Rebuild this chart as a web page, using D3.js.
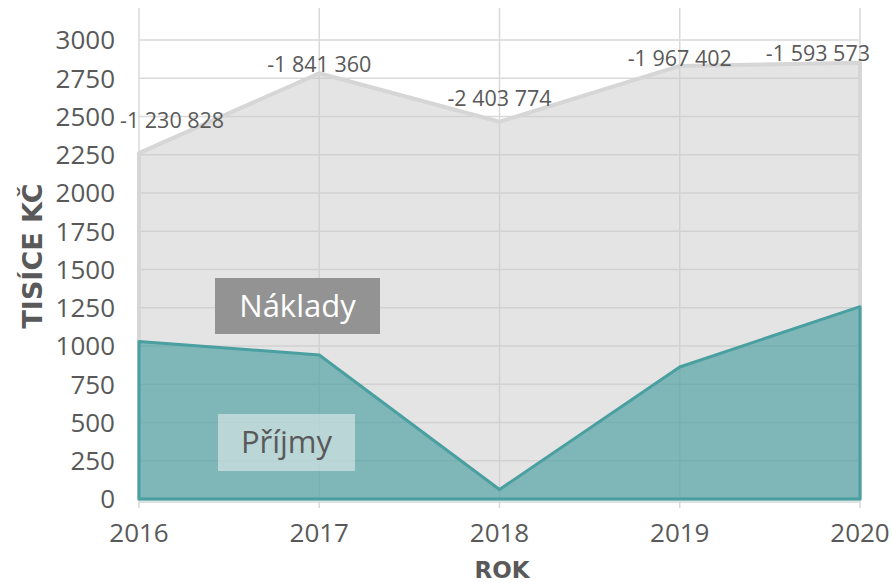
<!DOCTYPE html>
<html>
<head>
<meta charset="utf-8">
<script src="https://cdn.jsdelivr.net/npm/d3@7"></script>
<style>
  html, body { margin: 0; padding: 0; background: #ffffff; }
  svg { display: block; }
</style>
</head>
<body>
<svg id="chart" width="892" height="583"></svg>
<script>
// Roky a hodnoty v tisících Kč
const years = [2016, 2017, 2018, 2019, 2020];
const prijmy = [1030, 941, 62, 863, 1257];
const naklady = [2260.828, 2782.36, 2465.774, 2830.402, 2850.573];
const yTicks = [0, 250, 500, 750, 1000, 1250, 1500, 1750, 2000, 2250, 2500, 2750, 3000];

// Saldo (příjmy − náklady) v Kč pro popisky nad body
const saldo = years.map((y, i) => Math.round((prijmy[i] - naklady[i]) * 1000));

const svg = d3.select("#chart");
const textColor = "#595959";
const tickFont = "'Open Sans', 'Noto Sans', sans-serif";

const x = d3.scaleLinear().domain([2016, 2020]).range([139, 860]);
const y = d3.scaleLinear().domain([0, 3000]).range([499, 40]);

// Mřížka
const grid = svg.append("g");
grid.selectAll("line.h").data(yTicks).join("line")
  .attr("x1", x(2016)).attr("x2", x(2020))
  .attr("y1", d => y(d)).attr("y2", d => y(d))
  .attr("stroke", "#d9d9d9").attr("stroke-width", 1.5);
grid.selectAll("line.v").data(years).join("line")
  .attr("x1", d => x(d)).attr("x2", d => x(d))
  .attr("y1", 8).attr("y2", 508)
  .attr("stroke", "#d9d9d9").attr("stroke-width", 1.5);

// Vodorovná osa
svg.append("line")
  .attr("x1", x(2016)).attr("x2", x(2020))
  .attr("y1", y(0) + 3).attr("y2", y(0) + 3)
  .attr("stroke", "#cfd8d8").attr("stroke-width", 1.5);

const rows = years.map((yr, i) => ({ yr, n: naklady[i], p: prijmy[i], s: saldo[i] }));

function areaPath(acc) {
  const top = d3.line().x(d => x(d.yr)).y(d => y(acc(d)))(rows);
  return top + `L${x(2020)},${y(0)}L${x(2016)},${y(0)}Z`;
}

// Náklady
svg.append("path")
  .attr("d", areaPath(d => d.n))
  .attr("fill", "rgb(201,201,201)").attr("fill-opacity", 0.5)
  .attr("stroke", "#d6d6d6").attr("stroke-width", 4)
  .attr("stroke-linejoin", "round");

// Příjmy
svg.append("path")
  .attr("d", areaPath(d => d.p))
  .attr("fill", "rgb(60,153,156)").attr("fill-opacity", 0.6)
  .attr("stroke", "#4a9fa0").attr("stroke-width", 3)
  .attr("stroke-linejoin", "round");

// Popisky osy Y
svg.append("g").selectAll("text").data(yTicks).join("text")
  .attr("x", 115).attr("y", d => y(d))
  .attr("dy", "0.36em")
  .attr("text-anchor", "end")
  .attr("font-family", tickFont).attr("font-size", 26)
  .attr("fill", textColor)
  .text(d => d);

// Popisky osy X
svg.append("g").selectAll("text").data(years).join("text")
  .attr("x", d => x(d)).attr("y", 542)
  .attr("text-anchor", "middle")
  .attr("font-family", tickFont).attr("font-size", 26)
  .attr("fill", textColor)
  .text(d => d);

// Názvy os
svg.append("text")
  .attr("x", 502).attr("y", 578)
  .attr("text-anchor", "middle")
  .attr("font-family", "'DejaVu Sans', sans-serif").attr("font-weight", "bold")
  .attr("font-size", 23).attr("fill", textColor)
  .text("ROK");
svg.append("text")
  .attr("transform", "translate(42,256) rotate(-90)")
  .attr("text-anchor", "middle")
  .attr("font-family", "'DejaVu Sans', sans-serif").attr("font-weight", "bold")
  .attr("font-size", 27).attr("fill", textColor)
  .text("TISÍCE KČ");

// Popisky sald nad body nákladů
const fmt = v => (v < 0 ? "-" : "") + d3.format(",")(Math.abs(v)).replace(/,/g, " ");
const labelDy = [-25, -1, -16, 0, -2];
const labels = svg.append("g").selectAll("text").data(rows).join("text")
  .attr("y", (d, i) => y(d.n) + labelDy[i])
  .attr("text-anchor", "middle")
  .attr("font-family", tickFont).attr("font-size", 21.5)
  .attr("fill", textColor)
  .text(d => fmt(d.s));
labels.each(function (d) {
  const w = this.getComputedTextLength();
  const cx = Math.max(120 + w / 2, Math.min(870 - w / 2, x(d.yr)));
  d3.select(this).attr("x", cx);
});

// Legenda v ploše grafu
const legend = [
  { name: "Náklady", x0: 215, y0: 278, w: 165, h: 56, fill: "#939393", color: "#ffffff" },
  { name: "Příjmy", x0: 218, y0: 414, w: 137, h: 57, fill: "rgba(235,240,240,0.55)", color: "#595959" }
];
const lg = svg.append("g").selectAll("g").data(legend).join("g");
lg.append("rect")
  .attr("x", d => d.x0).attr("y", d => d.y0)
  .attr("width", d => d.w).attr("height", d => d.h)
  .attr("fill", d => d.fill);
lg.append("text")
  .attr("x", d => d.x0 + d.w / 2).attr("y", d => d.y0 + d.h / 2)
  .attr("dy", "0.35em")
  .attr("text-anchor", "middle")
  .attr("font-family", tickFont).attr("font-size", 31)
  .attr("fill", d => d.color)
  .text(d => d.name);
</script>
</body>
</html>
